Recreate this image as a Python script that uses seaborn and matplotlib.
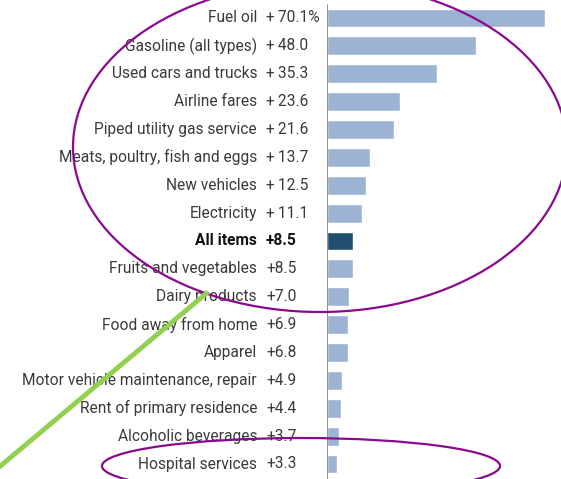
import matplotlib
matplotlib.use("Agg")
import matplotlib.pyplot as plt
import seaborn as sns
import pandas as pd
from matplotlib.patches import Ellipse
from matplotlib.lines import Line2D

categories = ["Fuel oil", "Gasoline (all types)", "Used cars and trucks", "Airline fares",
              "Piped utility gas service", "Meats, poultry, fish and eggs", "New vehicles",
              "Electricity", "All items", "Fruits and vegetables", "Dairy products",
              "Food away from home", "Apparel", "Motor vehicle maintenance, repair",
              "Rent of primary residence", "Alcoholic beverages", "Hospital services"]
values = [70.1, 48.0, 35.3, 23.6, 21.6, 13.7, 12.5, 11.1, 8.5, 8.5, 7.0, 6.9, 6.8, 4.9, 4.4, 3.7, 3.3]
value_labels = ["+\u200970.1%", "+\u200948.0", "+\u200935.3", "+\u200923.6", "+\u200921.6",
                "+\u200913.7", "+\u200912.5", "+\u200911.1", "+8.5",
                "+8.5", "+7.0", "+6.9", "+6.8", "+4.9", "+4.4", "+3.7", "+3.3"]
highlight = "All items"

W, H = 561, 479
sns.set_style("white")
plt.rcParams['font.family'] = ['Roboto', 'DejaVu Sans']

fig = plt.figure(figsize=(W / 100, H / 100), dpi=100)
ax_left = 327
ax = fig.add_axes([ax_left / W, 0, (W - ax_left) / W, 1])

df = pd.DataFrame({"cat": categories, "val": values,
                   "grp": ["hi" if c == highlight else "lo" for c in categories]})
sns.barplot(data=df, x="val", y="cat", hue="grp", palette={"hi": "#1f4e6e", "lo": "#9db3d3"},
            dodge=False, width=0.68, legend=False, ax=ax, order=categories, saturation=1)

px_per_unit = 3.11
ax.set_xlim(0, (W - ax_left) / px_per_unit)
row_px = 27.875
first_row = 18
ax.set_ylim(16 + (H - (first_row + 16 * row_px)) / row_px, -first_row / row_px)
ax.axis("off")
ax.axvline(0, ymin=0, ymax=1 - 5 / H, color="#8a8a8a", lw=1.3)

lab_x = (257 - ax_left) / px_per_unit
val_x = (266 - ax_left) / px_per_unit
for i, (c, v) in enumerate(zip(categories, value_labels)):
    bold = c == highlight
    kw = dict(va="center", fontsize=11.2, fontweight="bold" if bold else "normal",
              color="#111111" if bold else "#3a3a3a", clip_on=False)
    ax.text(lab_x, i, c, ha="right", **kw)
    ax.text(val_x, i, v, ha="left", **kw)

# annotation overlays (pixel positions)
def fx(x):
    return x / W
def fy(y):
    return 1 - y / H

purple = "#8a0a8f"
fig.add_artist(Ellipse((fx(320), fy(147)), 2 * 247 / W, 2 * 165 / H, fill=False,
                       edgecolor=purple, lw=1.6, transform=fig.transFigure))
fig.add_artist(Ellipse((fx(301), fy(466)), 2 * 199 / W, 2 * 28 / H, fill=False,
                       edgecolor=purple, lw=1.6, transform=fig.transFigure))
fig.add_artist(Line2D([fx(-2), fx(208)], [fy(468), fy(292)], color="#92d050", lw=3.5,
                      solid_capstyle="butt", transform=fig.transFigure))

fig.savefig("out.png", dpi=100)
